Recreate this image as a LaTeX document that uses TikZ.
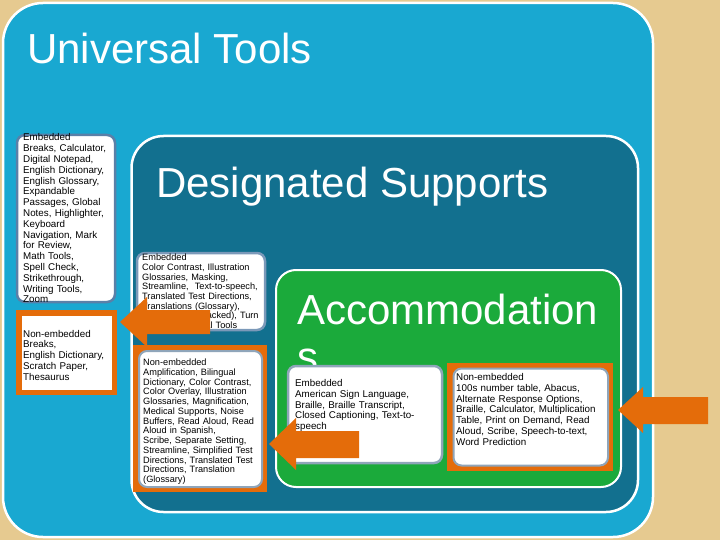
\documentclass[tikz,border=0pt]{standalone}
\usepackage{fontspec}
\setmainfont{Liberation Sans}
\definecolor{parch}{HTML}{E6CA90}
\definecolor{ublue}{HTML}{19A8D1}
\definecolor{dteal}{HTML}{12708F}
\definecolor{agreen}{HTML}{1BAA3B}
\definecolor{orangec}{HTML}{E46C0A}
\definecolor{edgeblue}{HTML}{5A80A8}
\definecolor{edgegray}{HTML}{8FA5BA}
\tikzset{
  bigbox/.style={draw=white, line width=2.5pt},
  wbox/.style={fill=white, draw=edgeblue, line width=2.5pt, rounded corners=8pt},
  gbox/.style={fill=white, draw=edgegray, line width=2.5pt, rounded corners=8pt},
  obox/.style={fill=orangec},
  txt/.style={anchor=base west, inner sep=0pt, text width=200pt, align=left,
    font=\fontsize{9.8}{10.8}\selectfont},
  dtxt/.style={txt, font=\fontsize{9.2}{9.75}\selectfont},
  bigtitle/.style={anchor=base west, inner sep=0pt, text=white,
    font=\fontsize{42}{47}\selectfont},
  blockarrow/.style={fill=orangec}
}
\begin{document}
\begin{tikzpicture}[x=1pt,y=-1pt]
\useasboundingbox (0,0) rectangle (720,540);
\fill[parch] (0,0) rectangle (720,540);
% big nested boxes
\draw[bigbox, fill=ublue, rounded corners=40pt] (3,3) rectangle (653,537);
\draw[bigbox, fill=dteal, rounded corners=32pt] (131.5,136) rectangle (638,512);
\draw[bigbox, line width=2pt, fill=agreen, rounded corners=20pt] (276,270) rectangle (621,487);
% titles
\node[bigtitle] (tUT) at (27,64) {Universal Tools};
\node[bigtitle] (tDS) at (156,197) {Designated Supports};
\node[bigtitle] (tAC) at (297,324) {Accommodation};
\node[bigtitle] (tACs) at (297,371) {s};
% universal tools boxes
\draw[wbox] (17,135) rectangle (115,302);
\fill[obox] (16,310) rectangle (117,395);
\fill[white] (21.5,315.5) rectangle (111.5,389.5);
% designated supports boxes
\draw[wbox, draw=edgeblue!80] (137,253) rectangle (265,330);
\fill[obox] (133,345) rectangle (267,492);
\draw[gbox, line width=2pt] (139,351) rectangle (262,487);
% accommodations boxes
\draw[gbox] (288,366) rectangle (442,463);
\fill[obox] (447,363) rectangle (613,471);
\draw[gbox, line width=2pt] (453.5,368.5) rectangle (608,465.5);
% texts
\node[txt] (uemb) at (23,141) {Embedded\\Breaks, Calculator,\\Digital Notepad,\\English Dictionary,\\English Glossary,\\Expandable\\Passages, Global\\Notes, Highlighter,\\Keyboard\\Navigation, Mark\\for Review,\\Math Tools,\\Spell Check,\\Strikethrough,\\Writing Tools,\\Zoom};
\node[txt] (unon) at (23,337) {Non-embedded\\Breaks,\\English Dictionary,\\Scratch Paper,\\Thesaurus};
\node[dtxt] (demb) at (142,260.5) {Embedded\\Color Contrast, Illustration\\Glossaries, Masking,\\Streamline,\ \ Text-to-speech,\\Translated Test Directions,\\Translations (Glossary),\\Translations (Stacked), Turn\\off Any Universal Tools};
\node[dtxt] (dnon) at (143,365.5) {Non-embedded\\Amplification, Bilingual\\Dictionary, Color Contrast,\\Color Overlay, Illustration\\Glossaries, Magnification,\\Medical Supports, Noise\\Buffers, Read Aloud, Read\\Aloud in Spanish,\\Scribe, Separate Setting,\\Streamline, Simplified Test\\Directions, Translated Test\\Directions, Translation\\(Glossary)};
\node[txt] (aemb) at (295,386.5) {Embedded\\American Sign Language,\\Braille, Braille Transcript,\\Closed Captioning, Text-to-\\speech};
\node[txt] (anon) at (456,380.5) {Non-embedded\\100s number table, Abacus,\\Alternate Response Options,\\Braille, Calculator, Multiplication\\Table, Print on Demand, Read\\Aloud, Scribe, Speech-to-text,\\Word Prediction};
% block arrows
\fill[blockarrow] (120,322) -- (147,297) -- (147,310) -- (210,310) -- (210,334) -- (147,334) -- (147,347) -- cycle;
\fill[blockarrow] (269,444) -- (296,418) -- (296,431) -- (359,431) -- (359,458) -- (296,458) -- (296,470) -- cycle;
\fill[blockarrow] (618,410) -- (643,387) -- (643,397) -- (708,397) -- (708,424) -- (643,424) -- (643,433) -- cycle;
\end{tikzpicture}
\end{document}
